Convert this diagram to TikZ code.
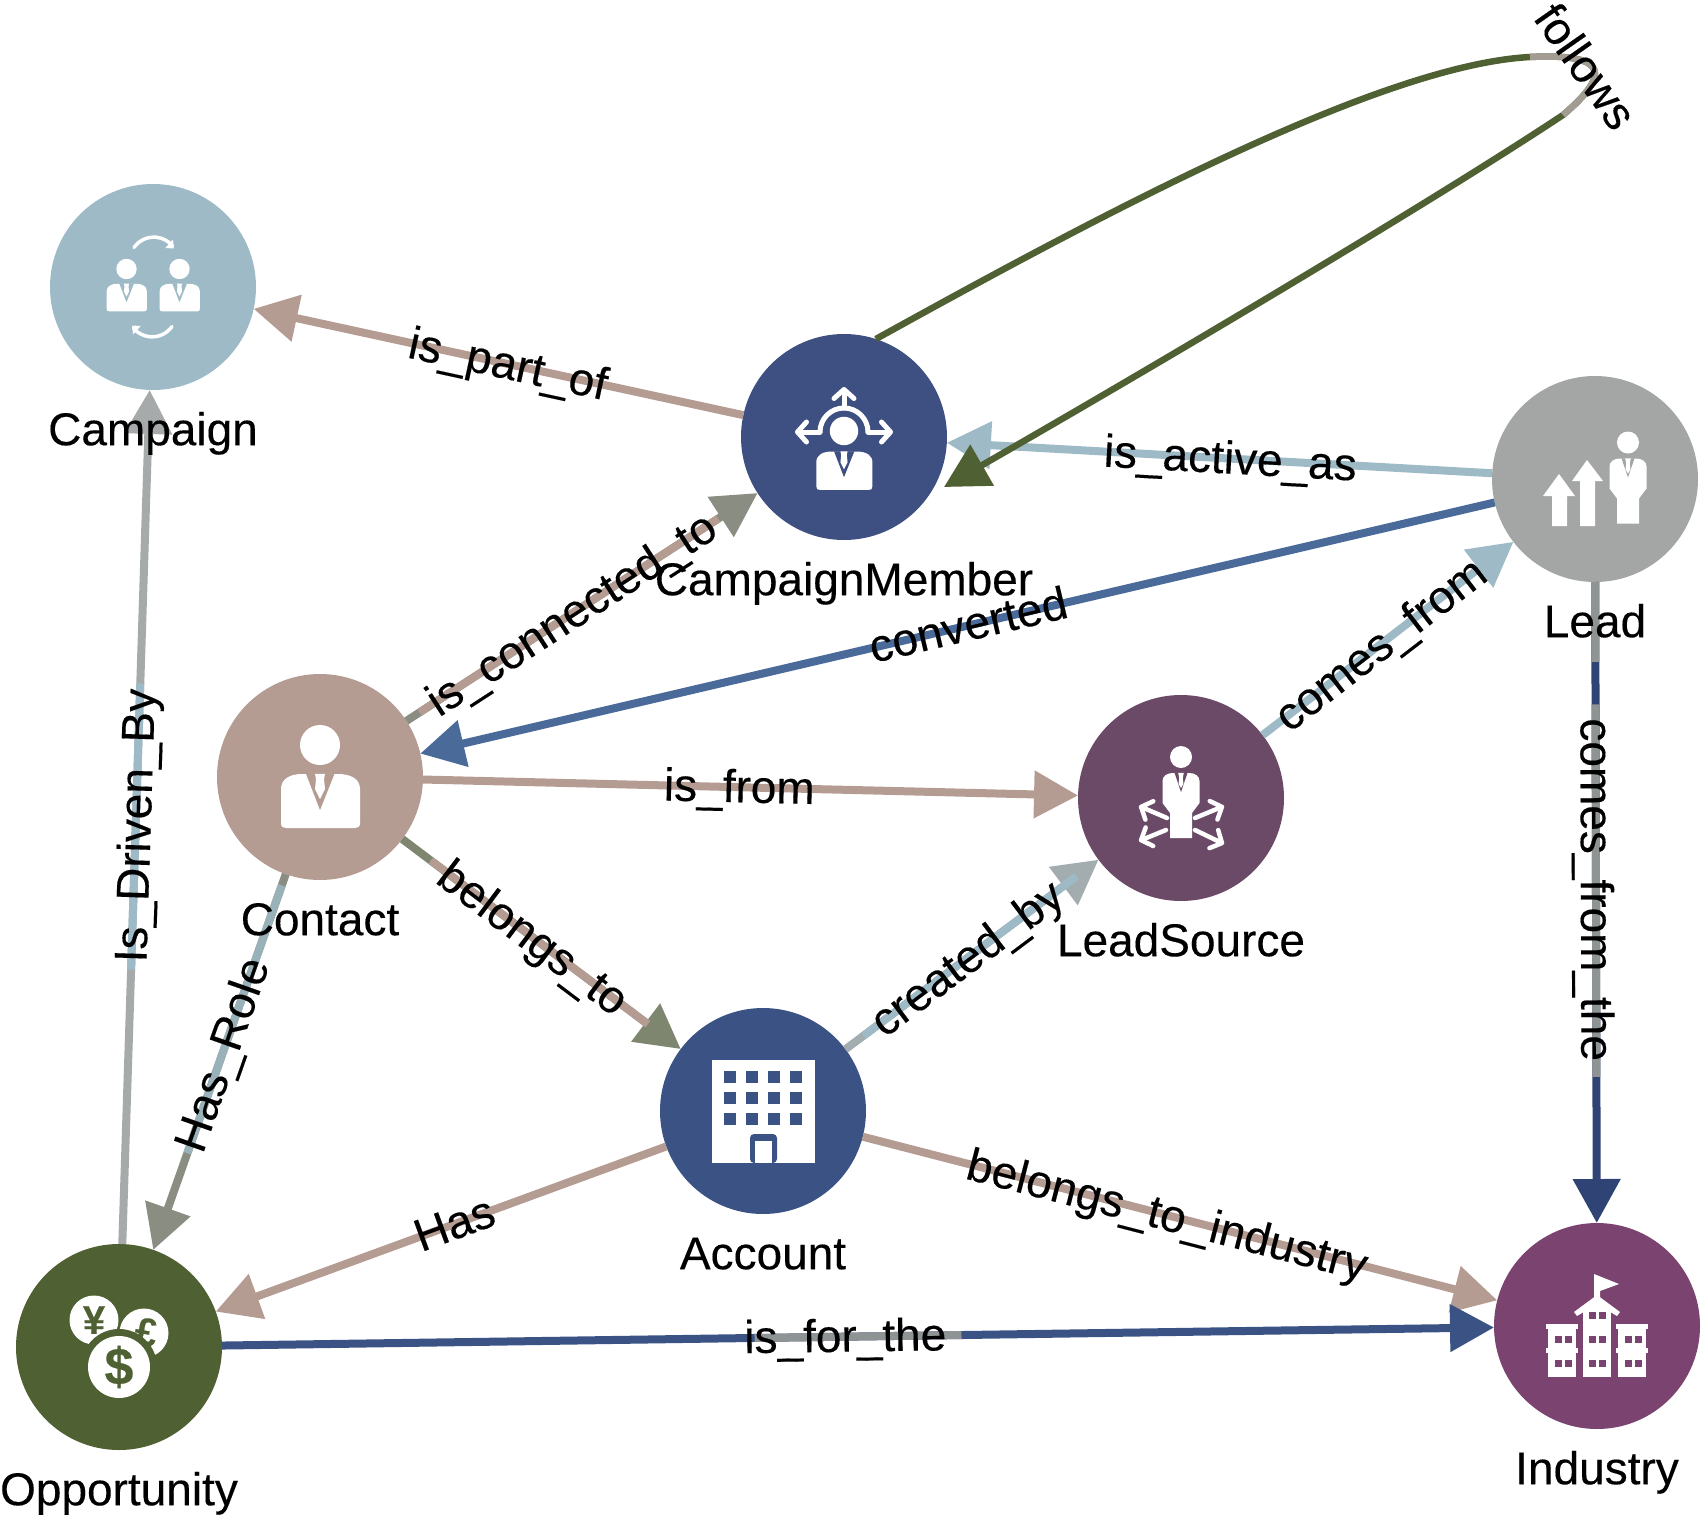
\documentclass[tikz,border=0pt]{standalone}
\usepackage{fontspec}
\setmainfont{Liberation Sans}[FakeBold=0.25]
\usetikzlibrary{positioning,calc,arrows.meta}
\definecolor{campaigncol}{HTML}{9DBAC6}
\definecolor{membercol}{HTML}{3E5082}
\definecolor{leadcol}{HTML}{A3A6A5}
\definecolor{sourcecol}{HTML}{6B4A68}
\definecolor{contactcol}{HTML}{B59C92}
\definecolor{accountcol}{HTML}{3A5384}
\definecolor{oppcol}{HTML}{4F6033}
\definecolor{industrycol}{HTML}{7B4370}
\definecolor{bluecol}{HTML}{4A6A9A}
\definecolor{navycol}{HTML}{2F4474}
\definecolor{stonecol}{HTML}{8A8E82}
\definecolor{mosscol}{HTML}{7F8670}
\definecolor{haycol}{HTML}{A3ADAF}
\definecolor{greycol}{HTML}{8E9394}
\definecolor{sandcol}{HTML}{A39C93}
\tikzset{
  entity/.style={circle,minimum size=206pt,inner sep=0pt,outer sep=0pt},
  entname/.style={below=22pt of #1,anchor=north,inner sep=0pt,text height=33pt,text depth=11pt,font=\fontsize{46}{50}\selectfont},
  link/.style={line width=8pt,-{Triangle[length=44pt,width=46pt,sep=0pt]}},
  under/.style={line width=8pt},
  linkname/.style={sloped,inner sep=0pt,text height=36pt,text depth=6pt,font=\fontsize{46}{50}\selectfont},
  iconline/.style={white,line width=5pt,line cap=round},
  iconarrow/.style={iconline,-{Straight Barb[round,length=9pt,width=20pt]}}
}
% suit and tie, head to chest
\newcommand{\busticon}[1]{
  \fill[white] (0,32) circle (20);
  \fill[white] (-39,-46) -- (-39,-12) .. controls (-39,-2) and (-30,3) .. (-18,3) -- (18,3) .. controls (31,3) and (40,-2) .. (40,-12) -- (40,-46) .. controls (40,-50) and (38,-51) .. (35,-51) -- (-34,-51) .. controls (-37,-51) and (-39,-50) .. cycle;
  \fill[#1] (-14,3.2) -- (0,-33) -- (14.5,3.2) -- cycle;
  \fill[white] (-5,3.2) -- (5,3.2) -- (4,-2) -- (5,-12) -- (0,-22) -- (-5,-12) -- (-4,-2) -- cycle;
}
% whole figure, head to legs
\newcommand{\figureicon}[1]{
  \fill[white] (0,41) circle (11);
  \fill[white] (-11,-40) -- (-11,-15) -- (-18.5,-5) -- (-18.5,17) .. controls (-18.5,22) and (-14,25) .. (-8,25) -- (8,25) .. controls (14,25) and (18.5,22) .. (18.5,17) -- (18.5,-5) -- (11,-15) -- (11,-40) -- cycle;
  \fill[#1] (-6.5,25.2) -- (0,6) -- (6.5,25.2) -- cycle;
  \fill[white] (-2.8,25.2) -- (2.8,25.2) -- (1.8,20) -- (2.4,14) -- (0,10) -- (-2.4,14) -- (-1.8,20) -- cycle;
}
\begin{document}
\begin{tikzpicture}[x=1pt,y=1pt]
\useasboundingbox (0,0) rectangle (1701,-1515);
\node[entity,fill=campaigncol] (campaign) at (153,-287) {};
\node[entity,fill=membercol] (member) at (844,-437) {};
\node[entity,fill=leadcol] (lead) at (1595,-479) {};
\node[entity,fill=sourcecol] (source) at (1181,-798) {};
\node[entity,fill=contactcol] (contact) at (320,-777) {};
\node[entity,fill=accountcol] (account) at (763,-1111) {};
\node[entity,fill=oppcol] (opportunity) at (119,-1347) {};
\node[entity,fill=industrycol] (industry) at (1597,-1326) {};
\coordinate (loopa) at (1530,-57);
\coordinate (loopb) at (1563,-115);
\coordinate (loopend) at (944,-487);
% links
\draw[link,contactcol] (member) -- (campaign);
\draw[link,campaigncol] (lead) -- (member);
\draw[link,stonecol] (contact) -- (member);
\draw[link,bluecol] (lead) -- (contact);
\draw[link,campaigncol] (source) -- (lead);
\draw[link,contactcol] (contact) -- (source);
\draw[link,mosscol] (contact) -- (account);
\draw[link,haycol] (account) -- (source);
\draw[link,stonecol] (contact) -- (opportunity);
\draw[link,haycol!85!contactcol] (opportunity) -- (campaign);
\draw[link,contactcol] (account) -- (opportunity);
\draw[link,contactcol] (account) -- (industry);
\draw[link,accountcol] (opportunity) -- (industry);
\draw[link,navycol] (lead) -- (industry);
\draw[link,oppcol,line width=6.5pt] (member.72) .. controls (1100,-215) and (1380,-65) .. (loopa) .. controls (1610,-53) and (1610,-75) .. (loopb) .. controls (1450,-190) and (1200,-340) .. (loopend);
% stretches in another colour
\draw[under,contactcol] ($(contact)!.19!(member)$) -- ($(contact)!.76!(member)$);
\draw[under,contactcol] ($(contact)!.25!(account)$) -- ($(contact)!.74!(account)$);
\draw[under,campaigncol] ($(account)!.24!(source)$) -- ($(account)!.75!(source)$);
\draw[under,campaigncol!80!stonecol] ($(contact)!.19!(opportunity)$) -- ($(contact)!.66!(opportunity)$);
\draw[under,campaigncol] ($(opportunity)!.356!(campaign)$) -- ($(opportunity)!.626!(campaign)$);
\draw[under,greycol] ($(opportunity)!.43!(industry)$) -- ($(opportunity)!.57!(industry)$);
\draw[under,greycol] (lead) ++(0,-103) -- ($(lead)!.216!(industry)$);
\draw[under,greycol] ($(lead)!.266!(industry)$) -- ($(lead)!.706!(industry)$);
\draw[under,sandcol,line width=6.5pt] (loopa) .. controls (1610,-53) and (1610,-75) .. (loopb);
% names of the links
\path (member) -- (campaign) node[linkname,pos=.48] (partof) {is\_part\_of};
\path (lead) -- (member) node[linkname,pos=.48] (activeas) {is\_active\_as};
\path (contact) -- (member) node[linkname,pos=.47] (connectedto) {is\_connected\_to};
\path (lead) -- (contact) node[linkname,pos=.49] (converted) {converted};
\path (source) -- (lead) node[linkname,pos=.47] (comesfrom) {comes\_from};
\path (contact) -- (source) node[linkname,pos=.483] (isfrom) {is\_from};
\path (contact) -- (account) node[linkname,pos=.47] (belongsto) {belongs\_to};
\path (account) -- (source) node[linkname,pos=.48] (createdby) {created\_by};
\path (contact) -- (opportunity) node[linkname,pos=.48] (hasrole) {Has\_Role};
\path (opportunity) -- (campaign) node[linkname,pos=.49] (drivenby) {Is\_Driven\_By};
\path (account) -- (opportunity) node[linkname,pos=.47] (has) {Has};
\path (account) -- (industry) node[linkname,pos=.48] (toindustry) {belongs\_to\_industry};
\path (opportunity) -- (industry) node[linkname,pos=.49] (forthe) {is\_for\_the};
\path (lead) -- (industry) node[linkname,pos=.48] (fromthe) {comes\_from\_the};
\node[linkname,rotate=-55] (follows) at (1585,-67) {follows};
% names of the entities
\node[entname=campaign] (campaignname) {Campaign};
\node[entname=member] (membername) {CampaignMember};
\node[entname=lead] (leadname) {Lead};
\node[entname=source] (sourcename) {LeadSource};
\node[entname=contact] (contactname) {Contact};
\node[entname=account] (accountname) {Account};
\node[entname=opportunity] (opportunityname) {Opportunity};
\node[entname=industry] (industryname) {Industry};
% icons
\begin{scope}[shift={(contact)}]
  \busticon{contactcol}
\end{scope}
\begin{scope}[shift={(campaign)}]
  \foreach \bx in {-26.5,26.5}{
    \begin{scope}[shift={(\bx,1.7)},scale=.51]
      \busticon{campaigncol}
    \end{scope}
  }
  \foreach \ang in {0,180}{
    \begin{scope}[rotate=\ang]
      \draw[white,line width=3.5pt,line cap=round] (-19,39.5) arc[start angle=145,end angle=40,radius=24.3];
      \fill[white] (12.3,39) -- (20.7,38.5) -- (20,47.5) -- cycle;
    \end{scope}
  }
\end{scope}
\begin{scope}[shift={(member)}]
  \begin{scope}[shift={(0,-16.7)},scale=.71]
    \busticon{membercol}
  \end{scope}
  \draw[iconline] (-24,5) arc[start angle=180,end angle=0,radius=24];
  \draw[iconarrow] (-24,5) -- (-49,5);
  \draw[iconarrow] (24,5) -- (49,5);
  \draw[iconarrow] (0,29) -- (0,50);
\end{scope}
\begin{scope}[shift={(lead)}]
  \begin{scope}[shift={(33,-4.5)}]
    \figureicon{leadcol}
  \end{scope}
  \fill[white] (-36,5) -- (-20,-17) -- (-28,-17) -- (-28,-47) -- (-43,-47) -- (-43,-17) -- (-52,-17) -- cycle;
  \fill[white] (-8,19) -- (8,-2) -- (0,-2) -- (0,-47) -- (-15,-47) -- (-15,-2) -- (-23,-2) -- cycle;
\end{scope}
\begin{scope}[shift={(source)}]
  \figureicon{sourcecol}
  \draw[iconarrow,line width=4.5pt] (-14,-20) -- (-42,-8);
  \draw[iconarrow,line width=4.5pt] (-15,-32) -- (-42,-43);
  \draw[iconarrow,line width=4.5pt] (14,-20) -- (43,-8);
  \draw[iconarrow,line width=4.5pt] (14,-32) -- (43,-46);
\end{scope}
\begin{scope}[shift={(account)}]
  \fill[white] (-51,-52) rectangle (52,51);
  \foreach \wx in {-33,-11,11,33}
    \foreach \wy in {34,13,-8}
      \fill[accountcol] (\wx-6,\wy-6) rectangle (\wx+6,\wy+6);
  \fill[accountcol,rounded corners=4pt] (-13,-52) -- (-13,-23) -- (14,-23) -- (14,-52) -- cycle;
  \fill[white] (-8,-52) rectangle (9,-30);
\end{scope}
\begin{scope}[shift={(opportunity)}]
  \fill[white] (-25,27) circle (24.5);
  \fill[white] (25,14) circle (24.5);
  \node[oppcol,font=\fontsize{40}{40}\bfseries\selectfont,inner sep=0pt] (yen) at (-25,27) {¥};
  \node[oppcol,font=\fontsize{40}{40}\bfseries\selectfont,inner sep=0pt,rotate=-10] (pound) at (27,15) {£};
  \fill[oppcol] (0,-20) circle (38);
  \fill[white] (0,-20) circle (31);
  \node[oppcol,font=\fontsize{52}{52}\bfseries\selectfont,inner sep=0pt] (dollar) at (0,-20) {\$};
\end{scope}
\begin{scope}[shift={(industry)}]
  \foreach \bx in {-49,21}{
    \fill[white] (\bx,-51) rectangle (\bx+28,2);
    \fill[white] (\bx-2,2) rectangle (\bx+30,-3);
    \fill[white] (\bx-2,-22) rectangle (\bx+30,-27);
    \foreach \wx in {10,20}
      \foreach \wy in {-13,-37}
        \fill[industrycol] (\bx+\wx-3.5,\wy-3.5) rectangle (\bx+\wx+3.5,\wy+3.5);
  }
  \fill[white] (-14,-51) rectangle (14,18);
  \fill[white] (-23,14) -- (0,31) -- (23,14) -- (20,10) -- (0,22) -- (-20,10) -- cycle;
  \fill[white] (-14,16) -- (0,26) -- (14,16) -- cycle;
  \fill[white] (-3,26) -- (-3,52) -- (22,42) -- (3,35) -- (3,26) -- cycle;
  \foreach \wx in {-4.5,5}
    \foreach \wy in {11,-13,-37}
      \fill[industrycol] (\wx-3.5,\wy-3.5) rectangle (\wx+3.5,\wy+3.5);
\end{scope}
\end{tikzpicture}
\end{document}
